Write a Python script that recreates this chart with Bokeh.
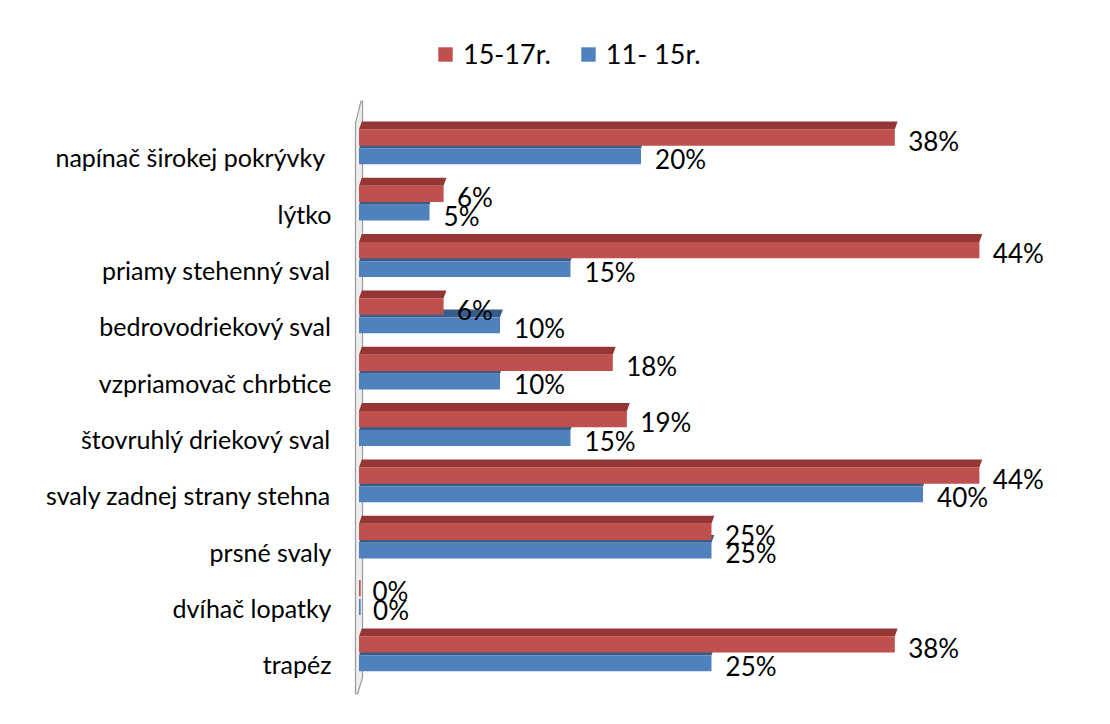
from bokeh.plotting import figure
from bokeh.models import Range1d, FixedTicker, Legend, LegendItem
from bokeh.embed import file_html
from bokeh.resources import INLINE
from bokeh.core.properties import value

# ---- data ----
categories = [
    "napínač širokej pokrývky ",
    "lýtko",
    "priamy stehenný sval",
    "bedrovodriekový sval",
    "vzpriamovač chrbtice",
    "štovruhlý driekový sval",
    "svaly zadnej strany stehna",
    "prsné svaly",
    "dvíhač lopatky",
    "trapéz",
]
series_names = ["15-17r.", "11- 15r."]
values_15_17 = [38, 6, 44, 6, 18, 19, 44, 25, 0, 38]
values_11_15 = [20, 5, 15, 10, 10, 15, 40, 25, 0, 25]

RED, RED_TOP = "#C0504D", "#943634"
BLUE, BLUE_TOP = "#4F81BD", "#385D8A"
FONT = value("Lato")

n = len(categories)
ypos = [n - 1 - i for i in range(n)]

p = figure(width=1102, height=716, output_backend="svg", toolbar_location=None,
           x_range=Range1d(-0.39, 52.73), y_range=Range1d(-0.924, 11.645),
           min_border_left=353, min_border_right=0, min_border_top=8, min_border_bottom=0,
           background_fill_color="white", border_fill_color="white")
p.outline_line_color = None
p.grid.visible = False
p.xaxis.visible = False

yax = p.yaxis[0]
yax.ticker = FixedTicker(ticks=ypos)
yax.major_label_overrides = {y: c for y, c in zip(ypos, categories)}
yax.axis_line_color = None
yax.major_tick_line_color = None
yax.minor_tick_line_color = None
yax.major_label_standoff = 16
yax.major_label_text_font = "Lato"
yax.major_label_text_font_size = "25px"
yax.major_label_text_color = "black"

# 3D wall
wall_top = n - 1 + 1.0
wall_bottom = -0.52
p.patch([-0.25, 0.14, 0.25, 0.25, -0.1, -0.25],
        [wall_top - 0.39, wall_top, wall_top, wall_bottom + 0.29, wall_bottom, wall_bottom],
        fill_color="#EDEDED", line_color="#9A9A9A", line_width=1.2)

d = 0.2  # depth slant of the top faces

def top_faces(vals, y0, y1):
    xs, ys = [], []
    for v, y in zip(vals, ypos):
        if v <= 0:
            continue
        xs.append([0, v, v + d, d])
        ys.append([y + y0, y + y0, y + y1, y + y1])
    return xs, ys

# blue series (behind)
bx, by = top_faces(values_11_15, 0.16, 0.30)
p.patches(bx, by, fill_color=BLUE_TOP, line_color=None)
blue = p.hbar(y=[y + 0.02 for y in ypos], height=0.28, left=0, right=values_11_15,
              fill_color=BLUE, line_color=None)
# red series
rx, ry = top_faces(values_15_17, 0.50, 0.64)
p.patches(rx, ry, fill_color=RED_TOP, line_color=None)
red = p.hbar(y=[y + 0.355 for y in ypos], height=0.29, left=0, right=values_15_17,
             fill_color=RED, line_color=None)

# thin stubs for zero values
p.hbar(y=[y + 0.355 for y, v in zip(ypos, values_15_17) if v == 0], height=0.29,
       left=0, right=0.12, fill_color=RED, line_color=None)
p.hbar(y=[y + 0.02 for y, v in zip(ypos, values_11_15) if v == 0], height=0.28,
       left=0, right=0.12, fill_color=BLUE, line_color=None)

# data labels
p.text(x=[v + 0.95 for v in values_15_17], y=[y + 0.30 for y in ypos],
       text=[f"{v}%" for v in values_15_17], text_font=FONT, text_font_size="26px",
       text_baseline="middle", text_align="left", text_color="black")
p.text(x=[v + 1.0 for v in values_11_15], y=[y - 0.03 for y in ypos],
       text=[f"{v}%" for v in values_11_15], text_font=FONT, text_font_size="26px",
       text_baseline="middle", text_align="left", text_color="black")

legend = Legend(items=[LegendItem(label=series_names[0], renderers=[red]),
                       LegendItem(label=series_names[1], renderers=[blue])],
                orientation="horizontal", location=(83, 646),
                glyph_width=18, glyph_height=18, label_standoff=9, spacing=28,
                padding=0, margin=0, border_line_color=None, background_fill_alpha=0,
                label_text_font="Lato", label_text_font_size="27px", label_text_color="black")
p.add_layout(legend)

open("out.html", "w").write(file_html(p, INLINE))
